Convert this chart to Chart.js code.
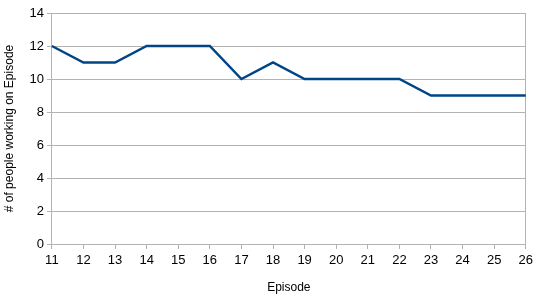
<!DOCTYPE html>
<html>
<head>
<meta charset="utf-8">
<script src="https://cdn.jsdelivr.net/npm/chart.js@4/dist/chart.umd.min.js"></script>
<style>
  html, body { margin: 0; padding: 0; background: #fff; }
  #wrap { width: 537px; height: 298px; }
</style>
</head>
<body>
<div id="wrap"><canvas id="chart"></canvas></div>
<script>
const episodes = ['11', '12', '13', '14', '15', '16', '17', '18', '19', '20', '21', '22', '23', '24', '25', '26'];
const peopleCount = [12, 11, 11, 12, 12, 12, 10, 11, 10, 10, 10, 10, 9, 9, 9, 9];
const yTicks = [0, 2, 4, 6, 8, 10, 12, 14];

const gridGray = '#b3b3b3';
const fontFam = '"Liberation Sans", Arial, sans-serif';

new Chart(document.getElementById('chart'), {
    type: 'line',
    data: {
        labels: episodes,
        datasets: [{
            label: '# of people working on Episode',
            data: peopleCount,
            borderColor: '#004586',
            borderWidth: 2.5,
            pointRadius: 0,
            tension: 0,
            fill: false
        }]
    },
    options: {
        responsive: true,
        maintainAspectRatio: false,
        animation: false,
        layout: { padding: { top: 13, right: 11, bottom: 3, left: 2 } },
        plugins: {
            legend: { display: false },
            tooltip: { enabled: false }
        },
        scales: {
            x: {
                offset: false,
                grid: {
                    color: ctx => ctx.index === episodes.length - 1 ? gridGray : 'rgba(0,0,0,0)',
                    tickColor: gridGray,
                    tickLength: 5,
                    lineWidth: 1
                },
                border: { color: gridGray },
                ticks: {
                    color: '#000',
                    font: { family: fontFam, size: 13 },
                    maxRotation: 0,
                    autoSkip: false,
                    padding: 4
                },
                title: {
                    display: true,
                    text: 'Episode',
                    color: '#000',
                    font: { family: fontFam, size: 12 },
                    padding: { top: 8, bottom: 0 }
                }
            },
            y: {
                min: 0,
                max: 14,
                afterBuildTicks: axis => { axis.ticks = yTicks.map(v => ({ value: v })); },
                grid: {
                    color: gridGray,
                    tickColor: gridGray,
                    tickLength: 5
                },
                border: { color: gridGray },
                ticks: {
                    color: '#000',
                    font: { family: fontFam, size: 13 },
                    padding: 3
                },
                title: {
                    display: true,
                    text: '# of people working on Episode',
                    color: '#000',
                    font: { family: fontFam, size: 12 },
                    padding: { top: 0, bottom: 10 }
                }
            }
        }
    }
});
</script>
</body>
</html>
